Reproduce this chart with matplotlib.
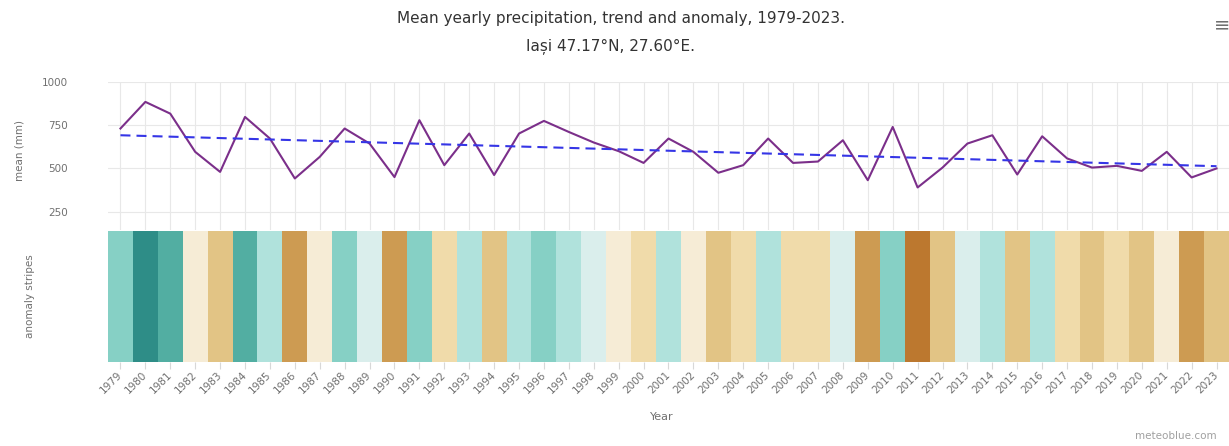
import numpy as np
import matplotlib.pyplot as plt
from matplotlib.colors import ListedColormap, BoundaryNorm

# --- data: mean yearly precipitation (mm), Iasi ---
years = np.arange(1979, 2024)
precip = [731, 885, 817, 596, 480, 798, 673, 442, 567, 731,
          644, 450, 779, 519, 702, 462, 702, 775, 711, 650,
          600, 532, 673, 596, 475, 519, 673, 532, 540, 663,
          432, 740, 390, 505, 644, 692, 465, 686, 558, 505,
          515, 486, 596, 448, 500]
trend_start, trend_end = 692, 513

# anomaly stripe classes (mm)
stripe_bounds = [0, 415, 458, 510, 563, 620, 667, 720, 788, 850, 1200]
stripe_colors = ['#bc782f', '#cd9b52', '#e2c485', '#f0dbaa', '#f6ecd6',
                 '#daeeec', '#b0e2dc', '#86d0c5', '#52aea2', '#2e8d87']

W, H = 1229, 446
fig = plt.figure(figsize=(W / 100, H / 100), dpi=100)
fig.patch.set_facecolor('white')

def px(x0, y0, x1, y1):
    return [x0 / W, 1 - y1 / H, (x1 - x0) / W, (y1 - y0) / H]

grey = '#707070'
gridc = '#e8e8e8'

# --- upper panel: yearly mean and trend ---
ax1 = fig.add_axes(px(108, 82, 1229, 230))
ax1.plot(years, precip, color='#7b2f8a', lw=1.5, zorder=3)
ax1.plot([years[0], years[-1]], [trend_start, trend_end],
         color='#3535e6', lw=1.5, ls=(0, (4.8, 2.9)), zorder=4)
ax1.set_xlim(1978.5, 2023.5)
ax1.set_ylim(144, 1000)
ax1.set_yticks([250, 500, 750, 1000])
ax1.set_xticks(years)
ax1.set_xticklabels([])
ax1.grid(True, color=gridc, lw=0.8)
ax1.tick_params(axis='both', length=0, labelsize=7.5, labelcolor=grey)
ax1.tick_params(axis='y', pad=29)
for lbl in ax1.get_yticklabels():
    lbl.set_horizontalalignment('right')
for s in ax1.spines.values():
    s.set_visible(False)

# --- lower panel: anomaly stripes ---
ax2 = fig.add_axes(px(108, 231, 1229, 362))
cmap = ListedColormap(stripe_colors)
norm = BoundaryNorm(stripe_bounds, cmap.N)
edges = np.append(years - 0.5, years[-1] + 0.5)
ax2.pcolormesh(edges, [0, 1], np.array(precip)[np.newaxis, :],
               cmap=cmap, norm=norm, shading='flat')
ax2.set_xlim(1978.5, 2023.5)
ax2.set_ylim(0, 1)
ax2.set_yticks([])
ax2.set_xticks(years)
ax2.set_xticklabels([str(y) for y in years], rotation=45,
                    ha='right', va='center', rotation_mode='anchor')
ax2.tick_params(axis='x', length=5, color='#d8d8d8', labelsize=7.5,
                labelcolor=grey, pad=3)
for s in ax2.spines.values():
    s.set_visible(False)

# --- labels and titles ---
fig.text(20 / W, 1 - 150 / H, 'mean (mm)', rotation=90, ha='center',
         va='center', fontsize=7.5, color=grey)
fig.text(30 / W, 1 - 296 / H, 'anomaly stripes', rotation=90, ha='center',
         va='center', fontsize=7.5, color=grey)
fig.text(662 / W, 1 - 417 / H, 'Year', ha='center', va='center',
         fontsize=8, color=grey)
fig.text(621 / W, 1 - 18 / H,
         'Mean yearly precipitation, trend and anomaly, 1979-2023.',
         ha='center', va='center', fontsize=11, color='#333333')
fig.text(610 / W, 1 - 46 / H, 'Iași 47.17°N, 27.60°E.', ha='center',
         va='center', fontsize=11, color='#333333')
fig.text(1217 / W, 1 - 436 / H, 'meteoblue.com', ha='right', va='center',
         fontsize=7.5, color='#a0a0a0')
fig.text(1222 / W, 1 - 25 / H, '≡', ha='center', va='center',
         fontsize=14, color=grey)

fig.savefig('out.png', dpi=100, facecolor='white')
